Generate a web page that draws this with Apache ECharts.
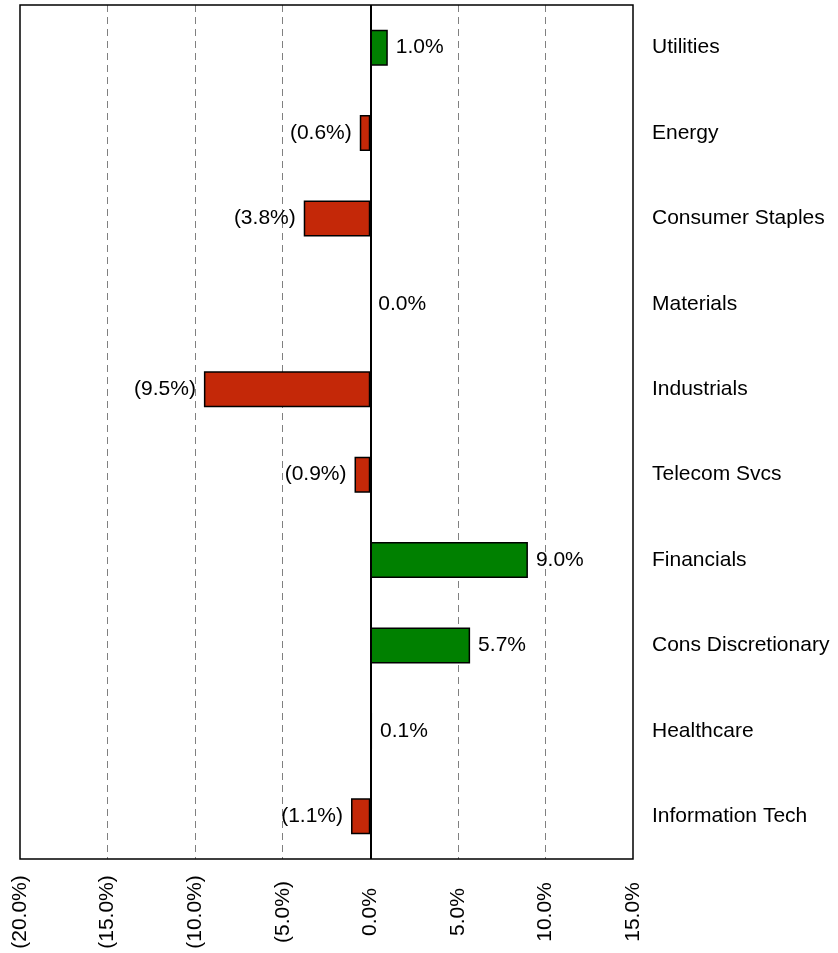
<!DOCTYPE html>
<html>
<head>
<meta charset="utf-8">
<script src="https://cdn.jsdelivr.net/npm/echarts@6/dist/echarts.min.js"></script>
<style>
html,body{margin:0;padding:0;background:#fff;}
#c{width:838px;height:953px;}
</style>
</head>
<body>
<div id="c"></div>
<script>
var categories = ["Utilities","Energy","Consumer Staples","Materials","Industrials","Telecom Svcs","Financials","Cons Discretionary","Healthcare","Information Tech"];
var values = [1.0,-0.6,-3.8,0.0,-9.5,-0.9,9.0,5.7,0.1,-1.1];
var xMin = -20, xMax = 15, xStep = 5;

function pct(v){
  var s = Math.abs(v).toFixed(1) + "%";
  return v < 0 ? "(" + s + ")" : s;
}

var FONT = "Liberation Sans, Arial, sans-serif";
var chart = echarts.init(document.getElementById('c'));
chart.setOption({
  animation: false,
  grid: {left: 20, right: 205, top: 5, bottom: 94, show: true, borderColor: '#000', borderWidth: 1.5, backgroundColor: 'transparent', z: 5},
  xAxis: {
    type: 'value', min: xMin, max: xMax, interval: xStep,
    axisLine: {show: false},
    axisTick: {show: false},
    splitLine: {show: true, showMinLine: false, showMaxLine: false, lineStyle: {color: '#808080', type: [7, 5], width: 1}},
    axisLabel: {rotate: 90, align: 'center', margin: 53, color: '#000', fontSize: 21, fontFamily: FONT, formatter: pct}
  },
  yAxis: {
    type: 'category', data: categories, inverse: true, position: 'right',
    axisLine: {show: false}, axisTick: {show: false},
    axisLabel: {margin: 19, color: '#000', fontSize: 21, fontFamily: FONT}
  },
  series: [{
    type: 'bar',
    barWidth: 36,
    data: values.map(function(v){
      return {
        value: v,
        itemStyle: {color: v < 0 ? '#c42808' : '#008000', borderColor: '#000', borderWidth: v === 0 ? 0 : 1.5},
        label: {position: v < 0 ? 'left' : 'right'}
      };
    }),
    label: {show: true, distance: 8, color: '#000', fontSize: 21, fontFamily: FONT, formatter: function(p){ return pct(p.value); }},
    markLine: {
      silent: true, symbol: ['none','none'],
      label: {show: false},
      lineStyle: {color: '#000', type: 'solid', width: 2},
      data: [{xAxis: 0}]
    }
  }]
});
</script>
</body>
</html>
